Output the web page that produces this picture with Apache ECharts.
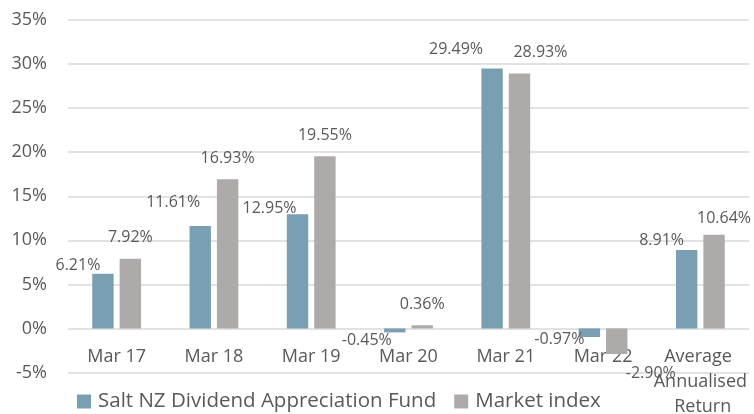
<!DOCTYPE html>
<html>
<head>
<meta charset="utf-8">
<script src="https://cdn.jsdelivr.net/npm/echarts@6/dist/echarts.min.js"></script>
<style>
  html, body { margin: 0; padding: 0; background: #fff; }
  #chart { width: 754px; height: 414px; }
</style>
</head>
<body>
<div id="chart"></div>
<script>
const categories = ["Mar 17", "Mar 18", "Mar 19", "Mar 20", "Mar 21", "Mar 22", "Average Annualised Return"];
const fundValues = [6.21, 11.61, 12.95, -0.45, 29.49, -0.97, 8.91];
const marketValues = [7.92, 16.93, 19.55, 0.36, 28.93, -2.90, 10.64];
const yTicks = { min: -5, max: 35, interval: 5 };

// label nudges (Excel moved some labels sideways to avoid overlaps)
const fundLabelOffsets = [[-25, 0], [-27, -16], [-28, 2], [-28, 0], [-36, -11], [-30, -6], [-25, -1]];
const marketLabelOffsets = [[0, -13], [0, -13], [0, -13], [0, -13], [21, -13], [34, 11], [10, -8]];

const textColor = "#595959";
const fontFamily = "'Open Sans', 'Noto Sans', sans-serif";

function buildData(values, offsets) {
  return values.map((v, i) => ({
    value: v,
    label: {
      position: v < 0 ? "bottom" : "top",
      offset: offsets[i],
    },
  }));
}

const chart = echarts.init(document.getElementById("chart"));
chart.setOption({
  animation: false,
  backgroundColor: "#fff",
  textStyle: { fontFamily: fontFamily },
  grid: { left: 68, right: 5, top: 20, bottom: 41.5, containLabel: false, outerBoundsMode: "none" },
  legend: {
    left: 77,
    top: 391,
    padding: 0,
    itemWidth: 14,
    itemHeight: 14,
    itemGap: 18,
    icon: "rect",
    textStyle: { color: textColor, fontSize: 20.5, fontFamily: fontFamily, padding: [0, 0, 0, 2] },
    data: ["Salt NZ Dividend Appreciation Fund", "Market index"],
  },
  xAxis: {
    type: "category",
    data: categories,
    // labels sit just under the 0% line, as in Excel
    axisLine: { show: false, onZero: false },
    axisTick: { show: false },
    axisLabel: {
      color: textColor,
      fontSize: 18,
      fontFamily: fontFamily,
      margin: -28,
      lineHeight: 25,
      width: 96,
      overflow: "break",
      interval: 0,
    },
  },
  yAxis: {
    type: "value",
    min: yTicks.min,
    max: yTicks.max,
    interval: yTicks.interval,
    axisLine: { show: false },
    axisTick: { show: false },
    splitLine: { lineStyle: { color: "#d9d9d9", width: 1.5 } },
    axisLabel: {
      color: textColor,
      fontSize: 18,
      fontFamily: fontFamily,
      margin: 21,
      formatter: "{value}%",
    },
  },
  series: [
    {
      name: "Salt NZ Dividend Appreciation Fund",
      type: "bar",
      barWidth: "22%",
      barGap: "28%",
      itemStyle: { color: "#7a9eb2" },
      label: {
        show: true,
        distance: 0,
        color: textColor,
        fontSize: 16,
        fontFamily: fontFamily,
        formatter: (p) => p.value.toFixed(2) + "%",
      },
      data: buildData(fundValues, fundLabelOffsets),
    },
    {
      name: "Market index",
      type: "bar",
      barWidth: "22%",
      barGap: "28%",
      itemStyle: { color: "#aeaaaa" },
      label: {
        show: true,
        distance: 0,
        color: textColor,
        fontSize: 16,
        fontFamily: fontFamily,
        formatter: (p) => p.value.toFixed(2) + "%",
      },
      data: buildData(marketValues, marketLabelOffsets),
    },
  ],
});
</script>
</body>
</html>
